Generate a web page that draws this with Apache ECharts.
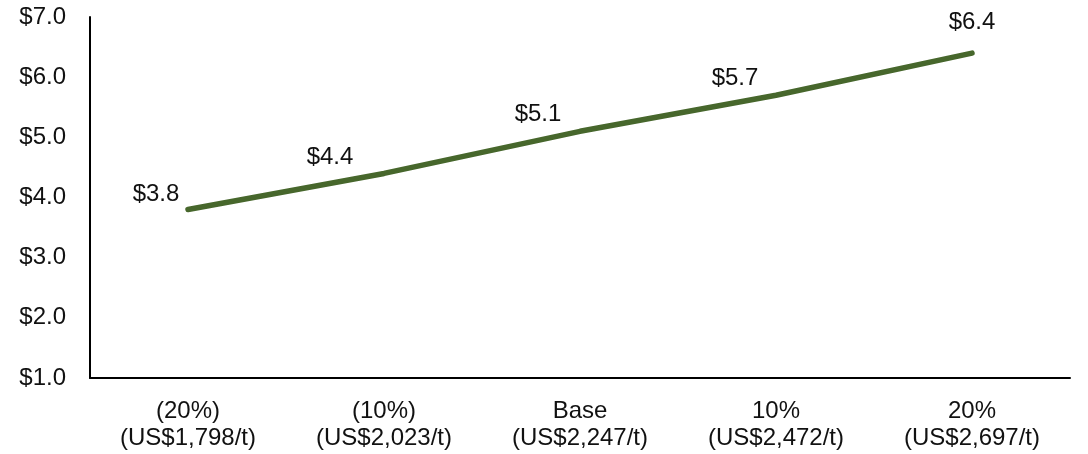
<!DOCTYPE html>
<html>
<head>
<meta charset="utf-8">
<script src="https://cdn.jsdelivr.net/npm/echarts@6/dist/echarts.min.js"></script>
<style>
  html, body { margin: 0; padding: 0; background: #fff; }
  #chart { width: 1088px; height: 454px; }
</style>
</head>
<body>
<div id="chart"></div>
<script>
// Price scenarios along the x axis
const categories = [
  '(20%)\n(US$1,798/t)',
  '(10%)\n(US$2,023/t)',
  'Base\n(US$2,247/t)',
  '10%\n(US$2,472/t)',
  '20%\n(US$2,697/t)'
];
// Value for each scenario (US$)
const values = [3.8, 4.4, 5.1, 5.7, 6.4];
// Value-axis range and step
const yMin = 1;
const yMax = 7;
const yStep = 1;

// Label placement per point
const labelOffsets = [[-32, 2], [-54, 1], [-42, 1], [-41, 1], [0, -13]];

const font = '"Liberation Sans", Arial, Helvetica, sans-serif';
const chart = echarts.init(document.getElementById('chart'), null, { renderer: 'canvas' });

chart.setOption({
  animation: false,
  backgroundColor: '#ffffff',
  grid: { left: 90, right: 18, top: 17, bottom: 76, containLabel: false },
  xAxis: {
    type: 'category',
    data: categories,
    boundaryGap: true,
    axisLine: { show: true, lineStyle: { color: '#000', width: 2 } },
    axisTick: { show: false },
    axisLabel: {
      color: '#111', fontFamily: font, fontSize: 24, lineHeight: 27,
      margin: 20, interval: 0
    },
    splitLine: { show: false }
  },
  yAxis: {
    type: 'value',
    min: yMin,
    max: yMax,
    interval: yStep,
    axisLine: { show: true, lineStyle: { color: '#000', width: 2 } },
    axisTick: { show: false },
    splitLine: { show: false },
    axisLabel: {
      color: '#111', fontFamily: font, fontSize: 24, margin: 24,
      formatter: v => '$' + v.toFixed(1)
    }
  },
  series: [{
    type: 'line',
    data: values.map((v, i) => ({
      value: v,
      label: { offset: labelOffsets[i] }
    })),
    showSymbol: true,
    symbol: 'circle',
    symbolSize: 1,
    itemStyle: { color: 'rgba(0,0,0,0)' },
    lineStyle: { color: '#47672c', width: 5.5, cap: 'round' },
    label: {
      show: true,
      position: 'top',
      distance: 5,
      color: '#111',
      fontFamily: font,
      fontSize: 24,
      formatter: p => '$' + p.value.toFixed(1)
    }
  }]
});
</script>
</body>
</html>
